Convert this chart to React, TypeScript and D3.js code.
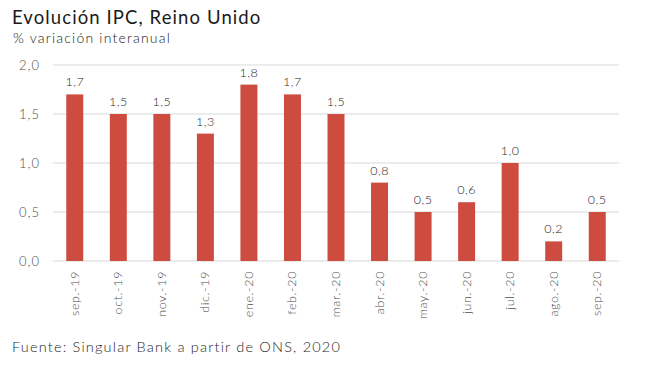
import * as d3 from 'd3'

// datos
const months = ['sep.-19', 'oct.-19', 'nov.-19', 'dic.-19', 'ene.-20', 'feb.-20', 'mar.-20',
    'abr.-20', 'may.-20', 'jun.-20', 'jul.-20', 'ago.-20', 'sep.-20']
const ipc = [1.7, 1.5, 1.5, 1.3, 1.8, 1.7, 1.5, 0.8, 0.5, 0.6, 1.0, 0.2, 0.5]
const yTicks = [0, 0.5, 1.0, 1.5, 2.0]

const width = 650
const height = 374
const margin = {top: 65, bottom: 113, left: 53, right: 31}

const fmt = (v: number) => v.toFixed(1).replace('.', ',')

export default function App() {
    const x = d3.scaleBand<string>()
        .domain(months)
        .range([margin.left, width - margin.right])
        .paddingInner(0.61)
        .paddingOuter(0.305)
    const y = d3.scaleLinear().domain([0, 2]).range([height - margin.bottom, margin.top])
    const font = 'Lato, "Open Sans", sans-serif'

    return (
        <svg width={width} height={height} style={{position: 'absolute', left: 0, top: 0, fontFamily: font}}>
            <rect width={width} height={height} fill="white"/>
            <text x={12} y={24} fontSize={18.5} fill="#1a1a1a" letterSpacing={1.1}>Evolución IPC, Reino Unido</text>
            <text x={13} y={43} fontSize={14} fill="#1a1a1a" fontWeight={300} letterSpacing={1.2}>% variación interanual</text>

            {yTicks.map(t => (
                <g key={t}>
                    <line x1={margin.left} x2={width - margin.right} y1={y(t)} y2={y(t)}
                          stroke="#d9d9d9" strokeWidth={1.2}/>
                    <text x={40} y={y(t)} dy="0.35em" textAnchor="end" fontSize={13} fill="#4d4d4d"
                          fontWeight={300} letterSpacing={1}>{fmt(t)}</text>
                </g>
            ))}

            {months.map((m, i) => (
                <g key={m}>
                    <rect x={x(m)} y={y(ipc[i])} width={x.bandwidth()} height={y(0) - y(ipc[i])} fill="#cd4b3f"/>
                    <text x={x(m)! + x.bandwidth() / 2} y={y(ipc[i]) - 8} textAnchor="middle"
                          fontSize={12.5} fill="#262626" fontWeight={300} letterSpacing={0.5}>{fmt(ipc[i])}</text>
                    <text transform={`translate(${x(m)! + x.bandwidth() / 2 + 4},${y(0) + 10}) rotate(-90)`}
                          textAnchor="end" fontSize={12.5} fill="#4d4d4d" fontWeight={300} letterSpacing={0.6}>{m}</text>
                </g>
            ))}

            <text x={12} y={352} fontSize={14.5} fill="#262626" fontWeight={300} letterSpacing={1.2}>Fuente: Singular Bank a partir de ONS, 2020</text>
        </svg>
    )
}
